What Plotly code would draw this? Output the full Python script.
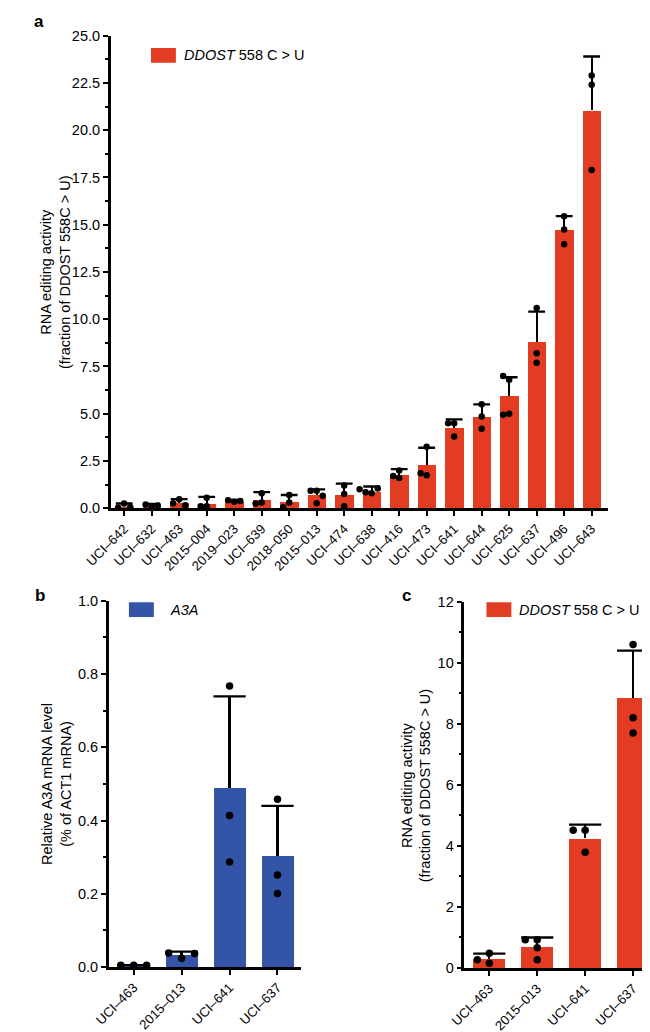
import plotly.graph_objects as go

# ---------------- data ----------------
cats_a = ["UCI–642", "UCI–632", "UCI–463", "2015–004", "2019–023", "UCI–639", "2018–050",
          "2015–013", "UCI–474", "UCI–638", "UCI–416", "UCI–473", "UCI–641", "UCI–644",
          "UCI–625", "UCI–637", "UCI–496", "UCI–643"]
mean_a = [0.10, 0.15, 0.30, 0.25, 0.37, 0.45, 0.35, 0.70, 0.70, 0.90, 1.77, 2.28, 4.25, 4.85,
          5.94, 8.82, 14.72, 21.05]
err_a = [0.15, 0.08, 0.18, 0.35, 0.07, 0.40, 0.35, 0.30, 0.60, 0.25, 0.30, 0.92, 0.45, 0.65,
         0.99, 1.58, 0.73, 2.85]
pts_a = [[0.25, 0.02, 0.05], [0.10, 0.20, 0.15], [0.48, 0.27, 0.16], [0.55, 0.10, 0.10],
         [0.35, 0.42, 0.38], [0.80, 0.30, 0.25], [0.70, 0.30, 0.05],
         [0.93, 0.93, 0.66, 0.27], [1.20, 0.75, 0.10], [0.80, 0.85, 1.05, 1.00],
         [1.60, 2.00, 1.70], [1.75, 1.85, 3.25], [4.50, 4.50, 3.80], [5.50, 4.85, 4.20],
         [6.80, 7.00, 5.00, 4.95], [10.60, 8.20, 7.70], [15.45, 14.75, 13.96],
         [22.90, 22.40, 17.90]]

cats_bc = ["UCI–463", "2015–013", "UCI–641", "UCI–637"]
mean_b = [0.004, 0.034, 0.489, 0.303]
err_b = [0.001, 0.008, 0.250, 0.137]
pts_b = [[0.005, 0.005, 0.005], [0.024, 0.038, 0.037], [0.767, 0.414, 0.287],
         [0.458, 0.251, 0.201]]

mean_c = [0.29, 0.68, 4.25, 8.84]
err_c = [0.18, 0.32, 0.45, 1.56]
pts_c = [[0.48, 0.27, 0.16], [0.93, 0.93, 0.66, 0.27], [4.51, 4.51, 3.79],
         [10.60, 8.20, 7.70]]

RED = "#E23D22"
BLUE = "#3454A8"
FONT = "Liberation Sans, Arial, sans-serif"
W, H = 650, 1032
FS = 14.5
FSX = 13.2


def swarm(vals, dx, thr):
    placed, offs = [], []
    for v in vals:
        o = 0
        for k in [0, -1, 1, -2, 2, -3, 3]:
            o = k * dx
            if all(not (abs(o - po) < dx * 0.9 and abs(v - pv) < thr) for po, pv in placed):
                break
        placed.append((o, v))
        offs.append(o)
    return offs


fig = go.Figure()


def add_panel(xa, ya, cats, means, errs, pts, color, barw, capsize, dx, thr, dot):
    idx = list(range(len(cats)))
    fig.add_trace(go.Bar(
        x=idx, y=means, width=barw, marker=dict(color=color, line=dict(width=0)),
        error_y=dict(type="data", symmetric=False, array=errs, arrayminus=[0] * len(errs),
                     width=0, thickness=2.3, color="black"),
        xaxis=xa, yaxis=ya, showlegend=False, hoverinfo="skip"))
    fig.add_trace(go.Scatter(
        x=idx, y=[m + e for m, e in zip(means, errs)], mode="markers",
        marker=dict(symbol="line-ew", size=capsize, line=dict(width=2.3, color="black")),
        xaxis=xa, yaxis=ya, showlegend=False, hoverinfo="skip"))
    px, py = [], []
    for i, p in enumerate(pts):
        offs = swarm(p, dx, thr)
        px += [i + o for o in offs]
        py += p
    fig.add_trace(go.Scatter(
        x=px, y=py, mode="markers", marker=dict(color="black", size=dot),
        xaxis=xa, yaxis=ya, showlegend=False, hoverinfo="skip"))


add_panel("x", "y", cats_a, mean_a, err_a, pts_a, RED, 0.66, 12, 0.22, 0.33, 6.5)
add_panel("x2", "y2", cats_bc, mean_b, err_b, pts_b, BLUE, 0.66, 23, 0.27, 0.02, 7.5)
add_panel("x3", "y3", cats_bc, mean_c, err_c, pts_c, RED, 0.66, 23, 0.25, 0.26, 7.5)


def px_x(p):
    return p / W


def px_y(p):
    return 1 - p / H


axis_common = dict(showline=True, linecolor="black", linewidth=2.5, ticks="outside",
                   tickcolor="black", tickwidth=2, ticklen=5, showgrid=False,
                   zeroline=False)
yfont = dict(tickfont=dict(family=FONT, size=FS, color="black"))
xfont = dict(tickfont=dict(family=FONT, size=FSX, color="black"))
minor_common = dict(ticks="outside", ticklen=3, tickcolor="black", tickwidth=2)

fig.update_layout(
    width=W, height=H, margin=dict(l=0, r=0, t=0, b=0),
    plot_bgcolor="white", paper_bgcolor="white", bargap=0,
    font=dict(family=FONT, color="black"),
    xaxis=dict(domain=[px_x(79), px_x(598)], range=[-0.49, 17.6], anchor="y",
               tickmode="array", tickvals=list(range(len(cats_a))), ticktext=cats_a,
               tickangle=-45, **axis_common, **xfont),
    yaxis=dict(domain=[px_y(500), px_y(20)], range=[0, 25], anchor="x",
               tickmode="linear", tick0=0, dtick=2.5, tickformat=".1f",
               minor=dict(dtick=1.25, **minor_common), **axis_common, **yfont),
    xaxis2=dict(domain=[px_x(77), px_x(278)], range=[-0.52, 3.5], anchor="y2",
                tickmode="array", tickvals=list(range(4)), ticktext=cats_bc,
                tickangle=-45, **axis_common, **xfont),
    yaxis2=dict(domain=[px_y(966), px_y(594)], range=[0, 1.0], anchor="x2",
                tickmode="linear", tick0=0, dtick=0.2, tickformat=".1f",
                minor=dict(dtick=0.1, **minor_common), **axis_common, **yfont),
    xaxis3=dict(domain=[px_x(448), px_x(650)], range=[-0.52, 3.52], anchor="y3",
                tickmode="array", tickvals=list(range(4)), ticktext=cats_bc,
                tickangle=-45, **axis_common, **xfont),
    yaxis3=dict(domain=[px_y(967), px_y(595)], range=[0, 12], anchor="x3",
                tickmode="linear", tick0=0, dtick=2,
                minor=dict(dtick=1, **minor_common), **axis_common, **yfont),
)

ann = []
shapes = []
# panel letters
for t, x, y in [("a", 4, 6), ("b", 5, 589), ("c", 388, 589)]:
    ann.append(dict(text=f"<b>{t}</b>", x=px_x(x), y=px_y(y), xref="paper", yref="paper",
                    xanchor="center", yanchor="middle", showarrow=False,
                    font=dict(family=FONT, size=17, color="black")))
# y titles
ytitle_ddost = "RNA editing activity<br>(fraction of DDOST 558C &gt; U)"
for t, x, y in [(ytitle_ddost, 22, 260), ("Relative A3A mRNA level<br>(% of ACT1 mRNA)", 23, 780),
                (ytitle_ddost, 398, 781)]:
    ann.append(dict(text=t, x=px_x(x), y=px_y(y), xref="paper", yref="paper",
                    xanchor="center", yanchor="middle", textangle=-90, showarrow=False,
                    font=dict(family=FONT, size=FS, color="black")))
# legends
for (x0, yc, col, txt, tx) in [(121, 40, RED, "<i>DDOST</i> 558 C &gt; U", 153),
                               (98, 603, BLUE, "<i>A3A</i>", 139),
                               (471, 603, RED, "<i>DDOST</i> 558 C &gt; U", 503)]:
    shapes.append(dict(type="rect", xref="paper", yref="paper", x0=px_x(x0), x1=px_x(x0 + 26),
                       y0=px_y(yc + 7.5), y1=px_y(yc - 7.5), fillcolor=col, line=dict(width=0)))
    ann.append(dict(text=txt, x=px_x(tx), y=px_y(yc), xref="paper", yref="paper",
                    xanchor="left", yanchor="middle", showarrow=False,
                    font=dict(family=FONT, size=FS, color="black")))

fig.update_layout(annotations=ann, shapes=shapes)
fig.write_html("out.html")
